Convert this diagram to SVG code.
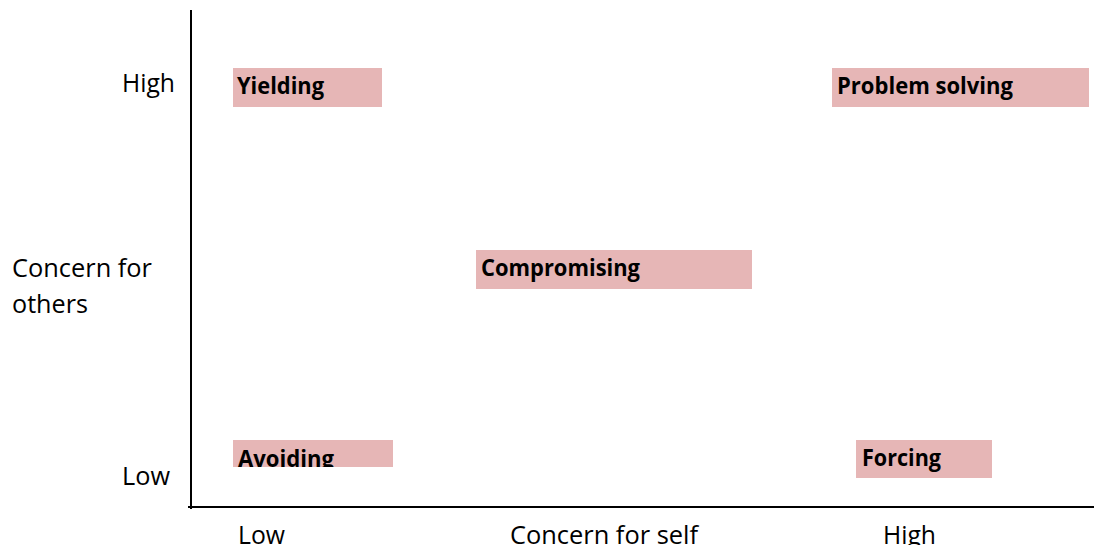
<svg xmlns="http://www.w3.org/2000/svg" width="1094" height="545" viewBox="0 0 1094 545">
<style>
.box{fill:#e6b6b6}
.lbl{font-family:"Open Sans","Liberation Sans",sans-serif;font-weight:bold;font-size:23px;fill:#000}
.ax{font-family:"Open Sans","Liberation Sans",sans-serif;font-size:25px;fill:#000}
.axis{stroke:#000;stroke-width:2;fill:none}
</style>
<defs>
<clipPath id="clipAvoid"><rect x="233" y="440" width="160" height="27"/></clipPath>
</defs>
<rect width="1094" height="545" fill="#fff"/>
<g id="connectors">
<line class="axis" x1="191" y1="10" x2="191" y2="509"/>
<line class="axis" x1="188" y1="507" x2="1094" y2="507"/>
</g>
<g id="axis-labels">
<text class="ax" x="122" y="92" textLength="53" lengthAdjust="spacingAndGlyphs">High</text>
<text class="ax" x="12" y="277" textLength="140" lengthAdjust="spacingAndGlyphs">Concern for</text>
<text class="ax" x="12" y="313" textLength="76" lengthAdjust="spacingAndGlyphs">others</text>
<text class="ax" x="122" y="485" textLength="48" lengthAdjust="spacingAndGlyphs">Low</text>
<text class="ax" x="238" y="544" textLength="47" lengthAdjust="spacingAndGlyphs">Low</text>
<text class="ax" x="510" y="544" textLength="188" lengthAdjust="spacingAndGlyphs">Concern for self</text>
<text class="ax" x="883" y="544" textLength="53" lengthAdjust="spacingAndGlyphs">High</text>
</g>
<g id="yielding">
<rect class="box" x="233" y="68" width="149" height="39"/>
<text class="lbl" x="237" y="94" textLength="87" lengthAdjust="spacingAndGlyphs">Yielding</text>
</g>
<g id="problem-solving">
<rect class="box" x="832" y="68" width="257" height="39"/>
<text class="lbl" x="837" y="94" textLength="176" lengthAdjust="spacingAndGlyphs">Problem solving</text>
</g>
<g id="compromising">
<rect class="box" x="476" y="250" width="276" height="39"/>
<text class="lbl" x="481" y="276" textLength="159" lengthAdjust="spacingAndGlyphs">Compromising</text>
</g>
<g id="avoiding">
<rect class="box" x="233" y="440" width="160" height="27"/>
<text class="lbl" x="238" y="467" textLength="96" lengthAdjust="spacingAndGlyphs" clip-path="url(#clipAvoid)">Avoiding</text>
</g>
<g id="forcing">
<rect class="box" x="856" y="440" width="136" height="38"/>
<text class="lbl" x="862" y="466" textLength="79" lengthAdjust="spacingAndGlyphs">Forcing</text>
</g>
</svg>
